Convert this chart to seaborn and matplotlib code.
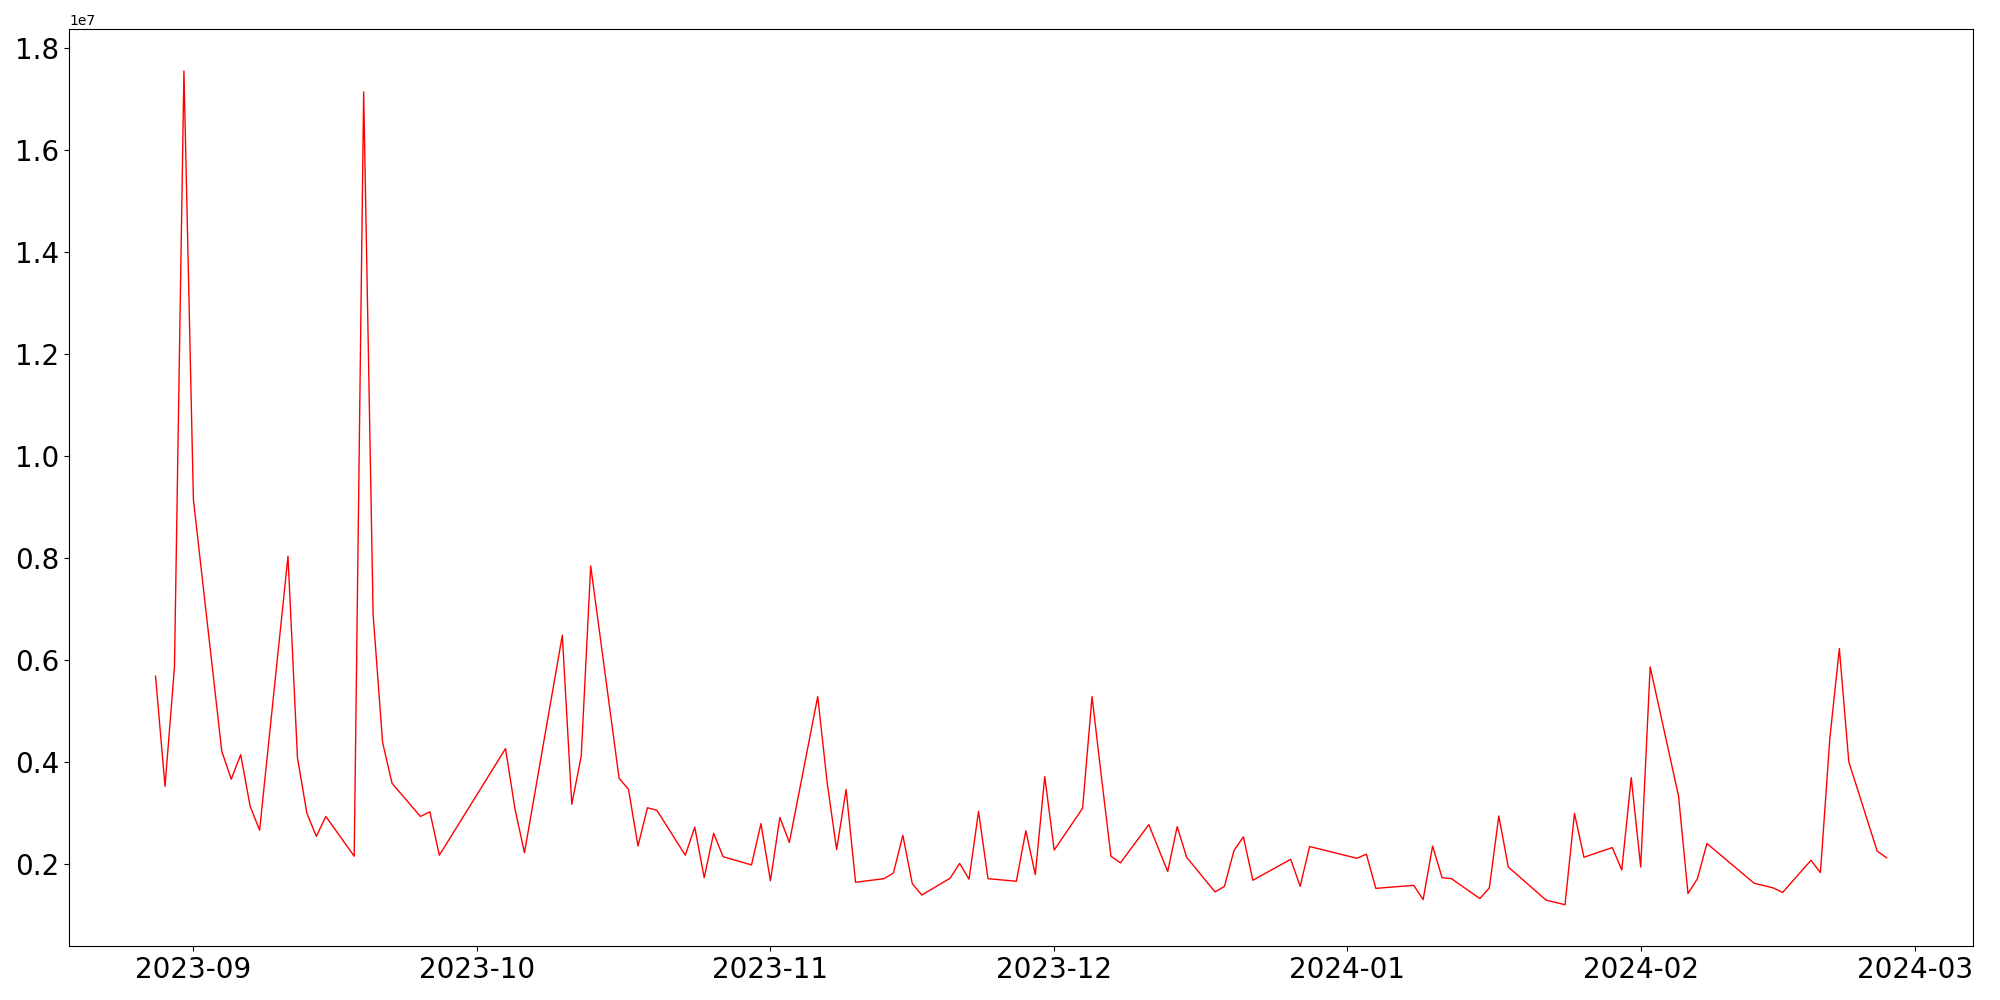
import matplotlib
matplotlib.use("Agg")
import matplotlib.pyplot as plt
import pandas as pd
import seaborn as sns

# Trading days and values (in millions)
dates = [
    "2023-08-28", "2023-08-29", "2023-08-30", "2023-08-31", "2023-09-01",
    "2023-09-04", "2023-09-05", "2023-09-06", "2023-09-07", "2023-09-08",
    "2023-09-11", "2023-09-12", "2023-09-13", "2023-09-14", "2023-09-15",
    "2023-09-18", "2023-09-19", "2023-09-20", "2023-09-21", "2023-09-22",
    "2023-09-25", "2023-09-26", "2023-09-27",
    "2023-10-04", "2023-10-05", "2023-10-06",
    "2023-10-10", "2023-10-11", "2023-10-12", "2023-10-13",
    "2023-10-16", "2023-10-17", "2023-10-18", "2023-10-19", "2023-10-20",
    "2023-10-23", "2023-10-24", "2023-10-25", "2023-10-26", "2023-10-27",
    "2023-10-30", "2023-10-31", "2023-11-01", "2023-11-02", "2023-11-03",
    "2023-11-06", "2023-11-07", "2023-11-08", "2023-11-09", "2023-11-10",
    "2023-11-13", "2023-11-14", "2023-11-15", "2023-11-16", "2023-11-17",
    "2023-11-20", "2023-11-21", "2023-11-22", "2023-11-23", "2023-11-24",
    "2023-11-27", "2023-11-28", "2023-11-29", "2023-11-30", "2023-12-01",
    "2023-12-04", "2023-12-05", "2023-12-06", "2023-12-07", "2023-12-08",
    "2023-12-11", "2023-12-13", "2023-12-14", "2023-12-15",
    "2023-12-18", "2023-12-19", "2023-12-20", "2023-12-21", "2023-12-22",
    "2023-12-26", "2023-12-27", "2023-12-28",
    "2024-01-02", "2024-01-03", "2024-01-04",
    "2024-01-08", "2024-01-09", "2024-01-10", "2024-01-11", "2024-01-12",
    "2024-01-15", "2024-01-16", "2024-01-17", "2024-01-18",
    "2024-01-22", "2024-01-24", "2024-01-25", "2024-01-26",
    "2024-01-29", "2024-01-30", "2024-01-31", "2024-02-01", "2024-02-02",
    "2024-02-05", "2024-02-06", "2024-02-07", "2024-02-08",
    "2024-02-13", "2024-02-15", "2024-02-16",
    "2024-02-19", "2024-02-20", "2024-02-21", "2024-02-22", "2024-02-23",
    "2024-02-26", "2024-02-27",
]
values_m = [
    5.69, 3.53, 5.87, 17.55, 9.15,
    4.22, 3.67, 4.15, 3.14, 2.67,
    8.04, 4.09, 3.00, 2.55, 2.94,
    2.16, 17.14, 6.90, 4.39, 3.59,
    2.94, 3.03, 2.18,
    4.27, 3.08, 2.23,
    6.49, 3.18, 4.12, 7.85,
    3.69, 3.47, 2.36, 3.11, 3.06,
    2.18, 2.73, 1.74, 2.61, 2.15,
    1.99, 2.80, 1.68, 2.92, 2.43,
    5.29, 3.60, 2.29, 3.47, 1.65,
    1.72, 1.83, 2.57, 1.62, 1.40,
    1.73, 2.02, 1.71, 3.04, 1.72,
    1.67, 2.66, 1.80, 3.72, 2.28,
    3.10, 5.29, 3.70, 2.16, 2.03,
    2.78, 1.86, 2.74, 2.14,
    1.46, 1.57, 2.27, 2.54, 1.69,
    2.10, 1.57, 2.35,
    2.12, 2.20, 1.53,
    1.59, 1.31, 2.36, 1.74, 1.72,
    1.33, 1.54, 2.95, 1.95,
    1.30, 1.21, 3.00, 2.14,
    2.33, 1.89, 3.70, 1.95, 5.87,
    3.34, 1.43, 1.72, 2.41,
    1.63, 1.54, 1.45,
    2.08, 1.84, 4.48, 6.23, 4.01,
    2.26, 2.13,
]

df = pd.DataFrame({
    "date": pd.to_datetime(dates),
    "value": [v * 1e6 for v in values_m],
})

fig, ax = plt.subplots(figsize=(20, 10), dpi=100)
fig.subplots_adjust(left=0.0345, right=0.9866, bottom=0.0536, top=0.9707)

sns.lineplot(data=df, x="date", y="value", color="red", linewidth=1, ax=ax)

ax.set_xlabel("")
ax.set_ylabel("")
ax.tick_params(axis="both", labelsize=20)

fig.savefig("out.png", dpi=100)
